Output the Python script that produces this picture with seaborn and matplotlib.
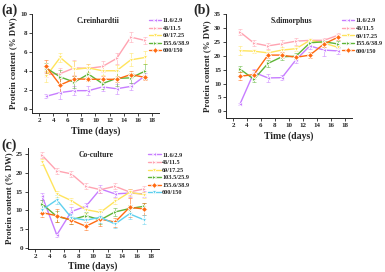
import pandas as pd
import matplotlib.pyplot as plt
import seaborn as sns

days = [3, 5, 7, 9, 11, 13, 15, 17]

# (a) C.reinhardtii
a_labels = ["11.6/2.9", "46/11.5", "69/17.25", "155.6/38.9", "600/150"]
a_s1 = [1.3, 1.7, 1.9, 1.9, 2.3, 2.1, 2.35, 3.45]
a_s2 = [3.6, 3.7, 4.3, 4.25, 4.45, 5.3, 7.55, 7.2]
a_s3 = [3.4, 5.4, 4.15, 4.3, 4.0, 4.0, 5.15, 5.4]
a_s4 = [4.3, 3.35, 2.8, 3.65, 2.65, 3.2, 3.25, 3.95]
a_s5 = [4.45, 2.5, 3.15, 3.1, 3.1, 3.1, 3.6, 3.3]
a_err = [[0.2, 0.7, 0.5, 0.5, 0.4, 0.5, 0.4, 0.3],
         [0.3, 0.6, 0.8, 0.5, 0.6, 0.6, 0.5, 0.4],
         [0.6, 0.5, 0.9, 0.4, 0.5, 0.6, 0.7, 0.7],
         [0.5, 0.7, 0.6, 0.5, 0.6, 0.8, 0.5, 0.8],
         [0.7, 0.8, 0.3, 0.2, 0.3, 0.3, 0.4, 0.3]]

# (b) S.dimorphus
b_labels = ["11.6/2.9", "46/11.5", "69/17.25", "155.6/38.9", "600/150"]
b_s1 = [2.6, 14.0, 12.0, 12.1, 18.5, 23.5, 22.0, 21.7]
b_s2 = [28.5, 24.5, 23.5, 24.3, 25.2, 25.5, 25.5, 27.3]
b_s3 = [21.8, 21.6, 21.0, 22.0, 22.5, 25.5, 24.5, 23.0]
b_s4 = [15.2, 11.5, 17.2, 19.6, 19.8, 24.6, 25.0, 24.2]
b_s5 = [12.6, 13.2, 20.2, 20.2, 19.4, 20.2, 24.2, 26.6]
b_err = [[0.4, 1.2, 1.3, 1.0, 1.0, 1.0, 2.0, 1.0],
         [1.2, 1.0, 1.0, 1.4, 1.2, 1.0, 1.0, 1.0],
         [1.5, 0.8, 1.0, 1.0, 1.0, 1.0, 1.5, 1.0],
         [1.2, 1.0, 1.2, 1.0, 1.0, 1.0, 1.0, 1.0],
         [1.5, 1.5, 1.0, 1.0, 1.0, 1.0, 1.0, 1.0]]

# (c) Co-culture
c_labels = ["11.6/2.9", "46/11.5", "69/17.25", "103.5/25.9", "155.6/38.9", "600/150"]
c_s1 = [13.7, 3.5, 9.7, 11.1, 15.7, 14.4, 14.6, 14.4]
c_s2 = [24.6, 20.5, 19.7, 16.4, 15.5, 16.4, 14.9, 15.7]
c_s3 = [22.8, 14.4, 12.6, 10.2, 9.5, 12.4, 14.8, 14.2]
c_s4 = [11.7, 8.4, 7.5, 8.6, 7.5, 9.6, 10.5, 11.1]
c_s5 = [9.4, 8.6, 7.4, 5.8, 7.7, 6.9, 10.8, 10.4]
c_s6 = [10.2, 12.8, 8.1, 7.4, 8.2, 6.4, 9.1, 7.5]
c_err = [[0.8, 0.6, 1.2, 1.0, 1.0, 0.8, 1.0, 0.8],
         [0.8, 0.8, 0.8, 0.8, 0.8, 0.8, 0.8, 0.8],
         [0.8, 0.8, 0.8, 0.8, 1.0, 0.8, 1.0, 0.8],
         [1.0, 1.5, 1.0, 1.0, 1.0, 1.0, 1.0, 1.0],
         [1.2, 1.8, 1.0, 1.0, 1.8, 1.2, 2.5, 1.5],
         [1.2, 1.2, 1.0, 1.0, 1.5, 1.0, 1.5, 1.2]]

colors5 = ["#c77dff", "#ffa3b1", "#ffe45c", "#5fb538", "#ff6a10"]
markers5 = ["<", ">", "v", ">", "D"]
colors6 = ["#c77dff", "#ffa3b1", "#ffe45c", "#5fb538", "#ff6a10", "#5fd0ee"]
markers6 = ["<", ">", "v", ">", "D", "v"]

sns.set_theme(style="ticks")
plt.rcParams["font.family"] = ["Liberation Serif", "DejaVu Serif"]
plt.rcParams["font.weight"] = "bold"

fig = plt.figure(figsize=(3.85, 2.72), dpi=100)


def panel(rect, series, labels, errs, colors, markers, ylim, yticks, title, tag, tagpos):
    ax = fig.add_axes(rect)
    rows = []
    for lab, vals in zip(labels, series):
        for d, v in zip(days, vals):
            rows.append({"day": d, "val": v, "grp": lab})
    df = pd.DataFrame(rows)
    for lab, vals, err, c in zip(labels, series, errs, colors):
        ax.errorbar(days, vals, yerr=err, fmt="none", ecolor=c, alpha=0.6,
                    elinewidth=0.6, capsize=1.2, capthick=0.6, zorder=1)
    sns.lineplot(data=df, x="day", y="val", hue="grp", style="grp",
                 palette=dict(zip(labels, colors)),
                 markers=dict(zip(labels, markers)), dashes=False,
                 linewidth=1.0, markersize=3.0, markeredgewidth=0.6,
                 ax=ax, legend=True)
    ax.set_xlim(1, 19)
    ax.set_ylim(*ylim)
    ax.set_xticks(range(2, 19, 2))
    ax.set_yticks(yticks)
    ax.tick_params(labelsize=5, length=2, width=0.6, pad=1.5)
    for t in ax.get_xticklabels() + ax.get_yticklabels():
        t.set_fontweight("bold")
    ax.set_xlabel("Time (days)", fontsize=7, fontweight="bold", labelpad=2)
    ax.set_ylabel("Protein content (% DW)", fontsize=6.3, fontweight="bold", labelpad=2)
    for s in ["left", "bottom"]:
        ax.spines[s].set_linewidth(0.7)
    sns.despine(ax=ax)
    ax.text(0.52, 0.93, title, transform=ax.transAxes, fontsize=5.5,
            fontweight="bold", ha="center", va="center")
    fig.text(tagpos[0], tagpos[1], tag, fontsize=10, fontweight="bold",
             ha="left", va="center")
    leg = ax.legend(loc="upper left", bbox_to_anchor=(0.92, 0.96), frameon=False,
                    fontsize=4.5, handlelength=2.0, handletextpad=0.25,
                    labelspacing=0.35, borderaxespad=0, borderpad=0)
    for t in leg.get_texts():
        t.set_fontweight("bold")
    return ax


panel([0.083, 0.583, 0.33, 0.366], [a_s1, a_s2, a_s3, a_s4, a_s5], a_labels, a_err,
      colors5, markers5, (-0.5, 10), range(0, 11, 2), "C.reinhardtii", "(a)", (0.003, 0.963))
panel([0.587, 0.565, 0.327, 0.384], [b_s1, b_s2, b_s3, b_s4, b_s5], b_labels, b_err,
      colors5, markers5, (-2.5, 35), range(0, 36, 5), "S.dimorphus", "(b)", (0.503, 0.963))
panel([0.072, 0.085, 0.34, 0.37], [c_s1, c_s2, c_s3, c_s4, c_s5, c_s6], c_labels, c_err,
      colors6, markers6, (-0.2, 26.5), range(0, 26, 5), "Co-culture", "(c)", (0.003, 0.465))

fig.savefig("out.png", dpi=100)
